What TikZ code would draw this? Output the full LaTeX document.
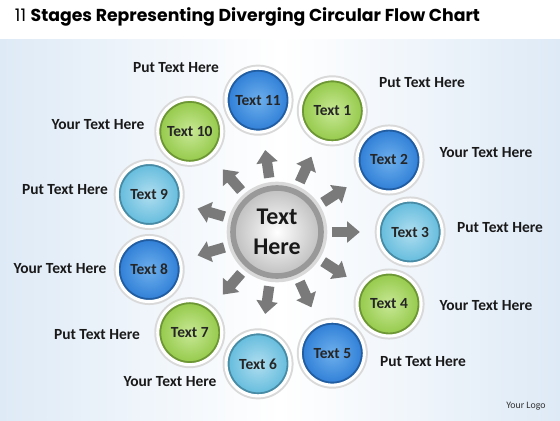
\documentclass[tikz,border=0pt]{standalone}
\usepackage{fontspec}
\setmainfont{Carlito}
\newfontfamily\titlefont{Poppins}
\usepackage{xcolor}
\usepackage{tikz}
\usetikzlibrary{calc, positioning, arrows.meta}
\definecolor{bgblue}{RGB}{222,234,246}
\definecolor{ballgreen}{RGB}{146,200,70}
\definecolor{ballgreenlt}{RGB}{200,232,150}
\definecolor{ballblue}{RGB}{44,124,214}
\definecolor{ballbluelt}{RGB}{110,176,236}
\definecolor{ballcyan}{RGB}{96,186,220}
\definecolor{ballcyanlt}{RGB}{176,222,240}
\tikzset{
    ball/.style={circle, minimum size=1.6cm, inner sep=0pt, draw=white, line width=2.2pt, font=\bfseries\fontsize{11}{13}\selectfont, text=black!85, preaction={draw=black!15, line width=5pt}},
    greenball/.style={ball, inner color=ballgreenlt, outer color=ballgreen, path picture={\draw[ballgreen!75!black, line width=1.5pt] (path picture bounding box.center) circle (0.74cm);}},
    blueball/.style={ball, inner color=ballbluelt, outer color=ballblue, path picture={\draw[ballblue!75!black, line width=1.5pt] (path picture bounding box.center) circle (0.74cm);}},
    cyanball/.style={ball, inner color=ballcyanlt, outer color=ballcyan, path picture={\draw[ballcyan!75!black, line width=1.5pt] (path picture bounding box.center) circle (0.74cm);}},
    hub/.style={circle, minimum size=2.2cm, inner sep=0pt, inner color=white, outer color=black!25, draw=black!40, line width=4pt, preaction={draw=black!15, line width=9pt}, align=center, font=\bfseries\fontsize{17}{21}\selectfont, text=black!90},
    spoke/.style={line width=0.26cm, black!52, -{Triangle[width=0.52cm, length=0.32cm]}, shorten <=0.2cm, shorten >=0.42cm},
    note/.style={font=\bfseries\fontsize{11}{13}\selectfont, text=black!90}
}

\begin{document}
\begin{tikzpicture}
    \useasboundingbox (0,0) rectangle (14,10.5);
    % background
    \fill[white] (0,0) rectangle (14,10.5);
    \shade[left color=bgblue, right color=bgblue, middle color=white] (0,0) rectangle (14,9.5);

    % title
    \node[anchor=west] (title) at (0.25,10.08) {\titlefont\fontsize{12.3}{15}\selectfont 11 \bfseries Stages Representing Diverging Circular Flow Chart};

    \begin{scope}[shift={(6.925,4.7)}]
        % hub
        \node[hub] (hub) at (0,0) {Text\\Here};

        % stages
        \node[greenball] (s1) at (65.45:3.33) {Text 1};
        \node[blueball] (s2) at (32.73:3.33) {Text 2};
        \node[cyanball] (s3) at (0:3.33) {Text 3};
        \node[greenball] (s4) at (-32.73:3.33) {Text 4};
        \node[blueball] (s5) at (-65.45:3.33) {Text 5};
        \node[cyanball] (s6) at (-98.18:3.33) {Text 6};
        \node[greenball] (s7) at (-130.91:3.33) {Text 7};
        \node[blueball] (s8) at (-163.64:3.33) {Text 8};
        \node[cyanball] (s9) at (163.64:3.33) {Text 9};
        \node[greenball] (s10) at (130.91:3.33) {Text 10};
        \node[blueball] (s11) at (98.18:3.33) {Text 11};

        % spokes
        \draw[spoke] (hub) -- (s1);
        \draw[spoke] (hub) -- (s2);
        \draw[spoke] (hub) -- (s3);
        \draw[spoke] (hub) -- (s4);
        \draw[spoke] (hub) -- (s5);
        \draw[spoke] (hub) -- (s6);
        \draw[spoke] (hub) -- (s7);
        \draw[spoke] (hub) -- (s8);
        \draw[spoke] (hub) -- (s9);
        \draw[spoke] (hub) -- (s10);
        \draw[spoke] (hub) -- (s11);
    \end{scope}

    % side texts
    \node[note] (l1) at (10.55,8.425) {Put Text Here};
    \node[note] (l2) at (12.15,6.675) {Your Text Here};
    \node[note] (l3) at (12.5,4.8) {Put Text Here};
    \node[note] (l4) at (12.15,2.85) {Your Text Here};
    \node[note] (l5) at (10.575,1.45) {Put Text Here};
    \node[note] (l6) at (4.25,0.95) {Your Text Here};
    \node[note] (l7) at (2.425,2.125) {Put Text Here};
    \node[note] (l8) at (1.5,3.775) {Your Text Here};
    \node[note] (l9) at (1.625,5.75) {Put Text Here};
    \node[note] (l10) at (2.45,7.375) {Your Text Here};
    \node[note] (l11) at (4.4,8.8) {Put Text Here};

    \node[font=\fontsize{7}{8}\selectfont, text=black!80] (logo) at (13.15,0.35) {Your Logo};
\end{tikzpicture}
\end{document}
